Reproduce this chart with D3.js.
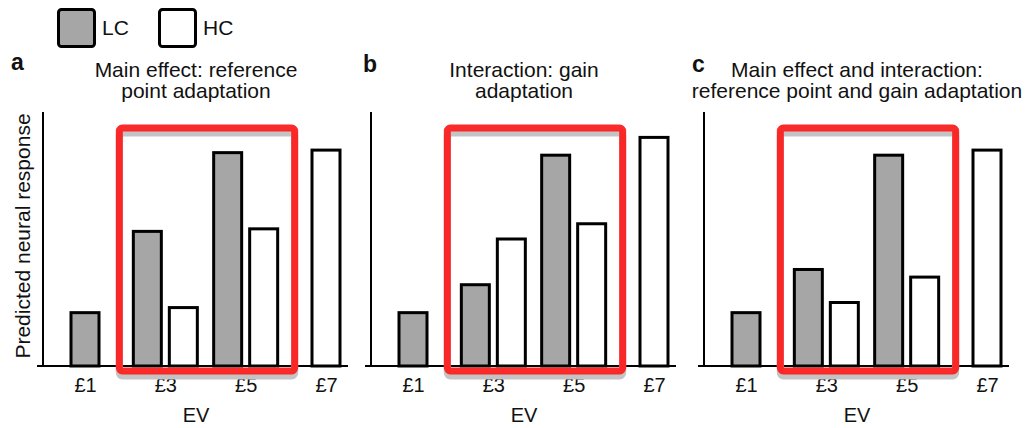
<!DOCTYPE html>
<html>
<head>
<meta charset="utf-8">
<script src="https://d3js.org/d3.v7.min.js"></script>
<style>
body{margin:0;background:#fff;}
svg text{font-family:Helvetica, Arial, "Liberation Sans", sans-serif;fill:#111;}
</style>
</head>
<body>
<svg id="chart" width="1027" height="428"></svg>
<script>
// data (fraction of the y-axis height)
var EV = ["£1","£3","£5","£7"];
var SERIES = ["LC","HC"];
var LC_A = [0.21, 0.53, 0.84, null];
var HC_A = [null, 0.23, 0.54, 0.85];
var LC_B = [0.21, 0.32, 0.83, null];
var HC_B = [null, 0.50, 0.56, 0.90];
var LC_C = [0.21, 0.38, 0.83, null];
var HC_C = [null, 0.25, 0.35, 0.85];
var LETTERS = ["a","b","c"];
var TITLES = [
	["Main effect: reference","point adaptation"],
	["Interaction: gain","adaptation"],
	["Main effect and interaction:","reference point and gain adaptation"]
];
var HIGHLIGHT = ["£3","£5"];
var Y_LABEL = "Predicted neural response";
var X_LABEL = "EV";

// layout
var BASE = 366, TOP = 112
var AXIS_X = [43, 371, 704]
var LETTER_X = [11, 363, 692]
var LETTER_Y = [70, 72, 72]
var BAR_W = 28, GAP = 8
var FILL = {LC:"#a6a6a6", HC:"#ffffff"}

var svg = d3.select("#chart")
var y = d3.scaleLinear().domain([0,1]).range([BASE, TOP])

var panels = [[LC_A,HC_A],[LC_B,HC_B],[LC_C,HC_C]]

panels.forEach(function(p, i){
	var ox = AXIS_X[i]
	var x = d3.scalePoint().domain(EV).range([ox+42, ox+283])
	var g = svg.append("g")

	// tick labels through the axis, own baseline drawn below
	var ax = g.append("g")
		.attr("transform","translate(0," + (BASE+8) + ")")
		.call(d3.axisBottom(x).tickSize(0).tickPadding(0))
	ax.select(".domain").remove()
	ax.selectAll("text")
		.attr("dy","0.9em")
		.style("font-size","20px")
		.style("fill","#111")

	g.append("line")
		.attr("x1",ox).attr("y1",TOP)
		.attr("x2",ox).attr("y2",BASE)
		.attr("stroke","#000").attr("stroke-width",2)
	g.append("line")
		.attr("x1",ox-6).attr("y1",BASE)
		.attr("x2",ox+305).attr("y2",BASE)
		.attr("stroke","#000").attr("stroke-width",2)

	// bars
	var bars = []
	EV.forEach(function(ev, k){
		var both = p[0][k] != null && p[1][k] != null
		SERIES.forEach(function(s, j){
			var v = p[j][k]
			if(v == null) return
			var left
			if(!both) left = x(ev) - BAR_W/2
			else if(j == 0) left = x(ev) - GAP/2 - BAR_W
			else left = x(ev) + GAP/2
			bars.push({s:s, v:v, x:left})
		})
	})
	g.selectAll(".bar")
		.data(bars)
		.enter()
		.append("rect")
		.attr("class","bar")
		.attr("x",function(d){ return d.x })
		.attr("y",function(d){ return y(d.v) })
		.attr("width",BAR_W)
		.attr("height",function(d){ return BASE - y(d.v) })
		.attr("fill",function(d){ return FILL[d.s] })
		.attr("stroke","#000")
		.attr("stroke-width",3)

	// highlight box with its grey shadow
	var bx = x(HIGHLIGHT[0]) - 46
	var bw = x(HIGHLIGHT[1]) + 49 - bx
	g.append("rect")
		.attr("x",bx).attr("y",128+5)
		.attr("width",bw).attr("height",243)
		.attr("rx",3)
		.attr("fill","none")
		.attr("stroke","#c4c4c4")
		.attr("stroke-width",7)
	g.append("rect")
		.attr("x",bx).attr("y",128)
		.attr("width",bw).attr("height",243)
		.attr("rx",3)
		.attr("fill","none")
		.attr("stroke","#fc2020")
		.attr("stroke-width",7)
		.attr("opacity",0.95)

	// titles
	g.append("text")
		.attr("x",LETTER_X[i]).attr("y",LETTER_Y[i])
		.style("font-size","23px")
		.style("font-weight","bold")
		.text(LETTERS[i])
	g.selectAll(".title")
		.data(TITLES[i])
		.enter()
		.append("text")
		.attr("class","title")
		.attr("x",ox+153)
		.attr("y",function(d,k){ return 77 + k*21 })
		.attr("text-anchor","middle")
		.style("font-size","21px")
		.text(function(d){ return d })

	g.append("text")
		.attr("x",ox+153).attr("y",422)
		.attr("text-anchor","middle")
		.style("font-size","20px")
		.text(X_LABEL)
})

svg.append("text")
	.attr("transform","translate(30,236) rotate(-90)")
	.attr("text-anchor","middle")
	.style("font-size","21px")
	.text(Y_LABEL)

// legend
var leg = svg.selectAll(".legend")
	.data(SERIES)
	.enter()
	.append("g")
	.attr("class","legend")
	.attr("transform",function(d,i){ return "translate(" + (58.5 + i*101) + ",9.5)" })
leg.append("rect")
	.attr("width",36).attr("height",37)
	.attr("rx",3)
	.attr("fill",function(d){ return FILL[d] })
	.attr("stroke","#000")
	.attr("stroke-width",3)
leg.append("text")
	.attr("x",43.5).attr("y",25.5)
	.style("font-size","21px")
	.text(function(d){ return d })
</script>
</body>
</html>
